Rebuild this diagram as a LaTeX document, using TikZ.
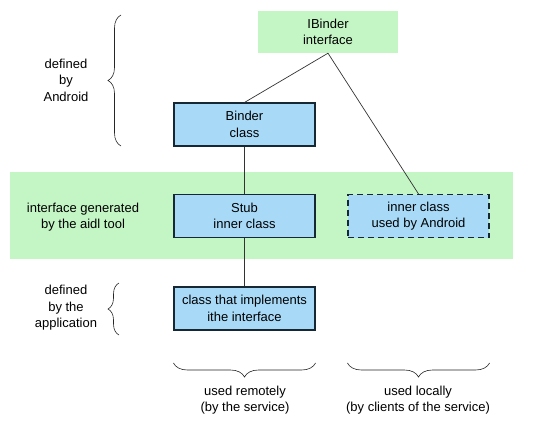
\documentclass[tikz,border=0pt]{standalone}
\usepackage{fontspec}
\setmainfont{Liberation Sans}
\usetikzlibrary{positioning}
\usetikzlibrary{decorations.pathreplacing}

\definecolor{bandgreen}{RGB}{196,245,196}
\definecolor{boxblue}{RGB}{168,218,248}
\definecolor{edgeblue}{RGB}{22,40,52}

\tikzset{
    classbox/.style = {draw=edgeblue, line width=1.1pt, fill=boxblue, align=center,
                       minimum width=141pt, minimum height=43pt, inner sep=2pt},
    ifacebox/.style = {fill=bandgreen, align=center,
                       minimum width=140pt, minimum height=42pt, inner sep=2pt},
    linkline/.style = {draw=black!80, line width=0.7pt},
    curlybrace/.style = {decorate, decoration={brace, amplitude=13pt}, line width=0.6pt, black!85},
    sidetext/.style = {align=center}
}

\begin{document}
\begin{tikzpicture}[x=1pt, y=-1pt, font=\fontsize{13}{16.5}\selectfont]

    \useasboundingbox (0,0) rectangle (553,428);

    % green band
    \fill[bandgreen] (10,172) rectangle (513,259);

    % boxes
    \node[ifacebox] (ibinder) at (328,32) {IBinder\\interface};
    \node[classbox] (binder) at (244.5,124.5) {Binder\\class};
    \node[classbox] (stub) at (244.5,216) {Stub\\inner class};
    \node[classbox, dashed, dash pattern=on 6pt off 4pt] (proxy) at (418.5,216) {inner class\\used by Android};
    \node[classbox] (impl) at (244.5,308.5) {class that implements\\ithe interface};

    % links
    \draw[linkline] (ibinder.south) -- (binder.north);
    \draw[linkline] (ibinder.south) -- (proxy.north);
    \draw[linkline] (binder.south) -- (stub.north);
    \draw[linkline] (stub.south) -- (impl.north);

    % left side
    \node[sidetext] (android) at (66,80) {defined\\by\\Android};
    \node[sidetext] (aidl) at (83,217) {interface generated\\by the aidl tool};
    \node[sidetext] (app) at (66,308) {defined\\by the\\application};

    \coordinate (androidlow) at (121,146);
    \coordinate (androidhigh) at (121,15);
    \coordinate (applow) at (119,335);
    \coordinate (apphigh) at (119,283);
    \draw[curlybrace] (androidlow) -- (androidhigh);
    \draw[curlybrace, decoration={amplitude=11pt}] (applow) -- (apphigh);

    % bottom braces
    \coordinate (remoteright) at (impl.east |- 0,363);
    \coordinate (remoteleft) at (impl.west |- 0,363);
    \coordinate (localright) at (proxy.east |- 0,363);
    \coordinate (localleft) at (proxy.west |- 0,363);
    \draw[curlybrace, decoration={amplitude=14pt}] (remoteright) -- (remoteleft);
    \draw[curlybrace, decoration={amplitude=14pt}] (localright) -- (localleft);

    \node[sidetext] (remote) at (245,400) {used remotely\\(by the service)};
    \node[sidetext] (local) at (418,400) {used locally\\(by clients of the service)};

\end{tikzpicture}
\end{document}
